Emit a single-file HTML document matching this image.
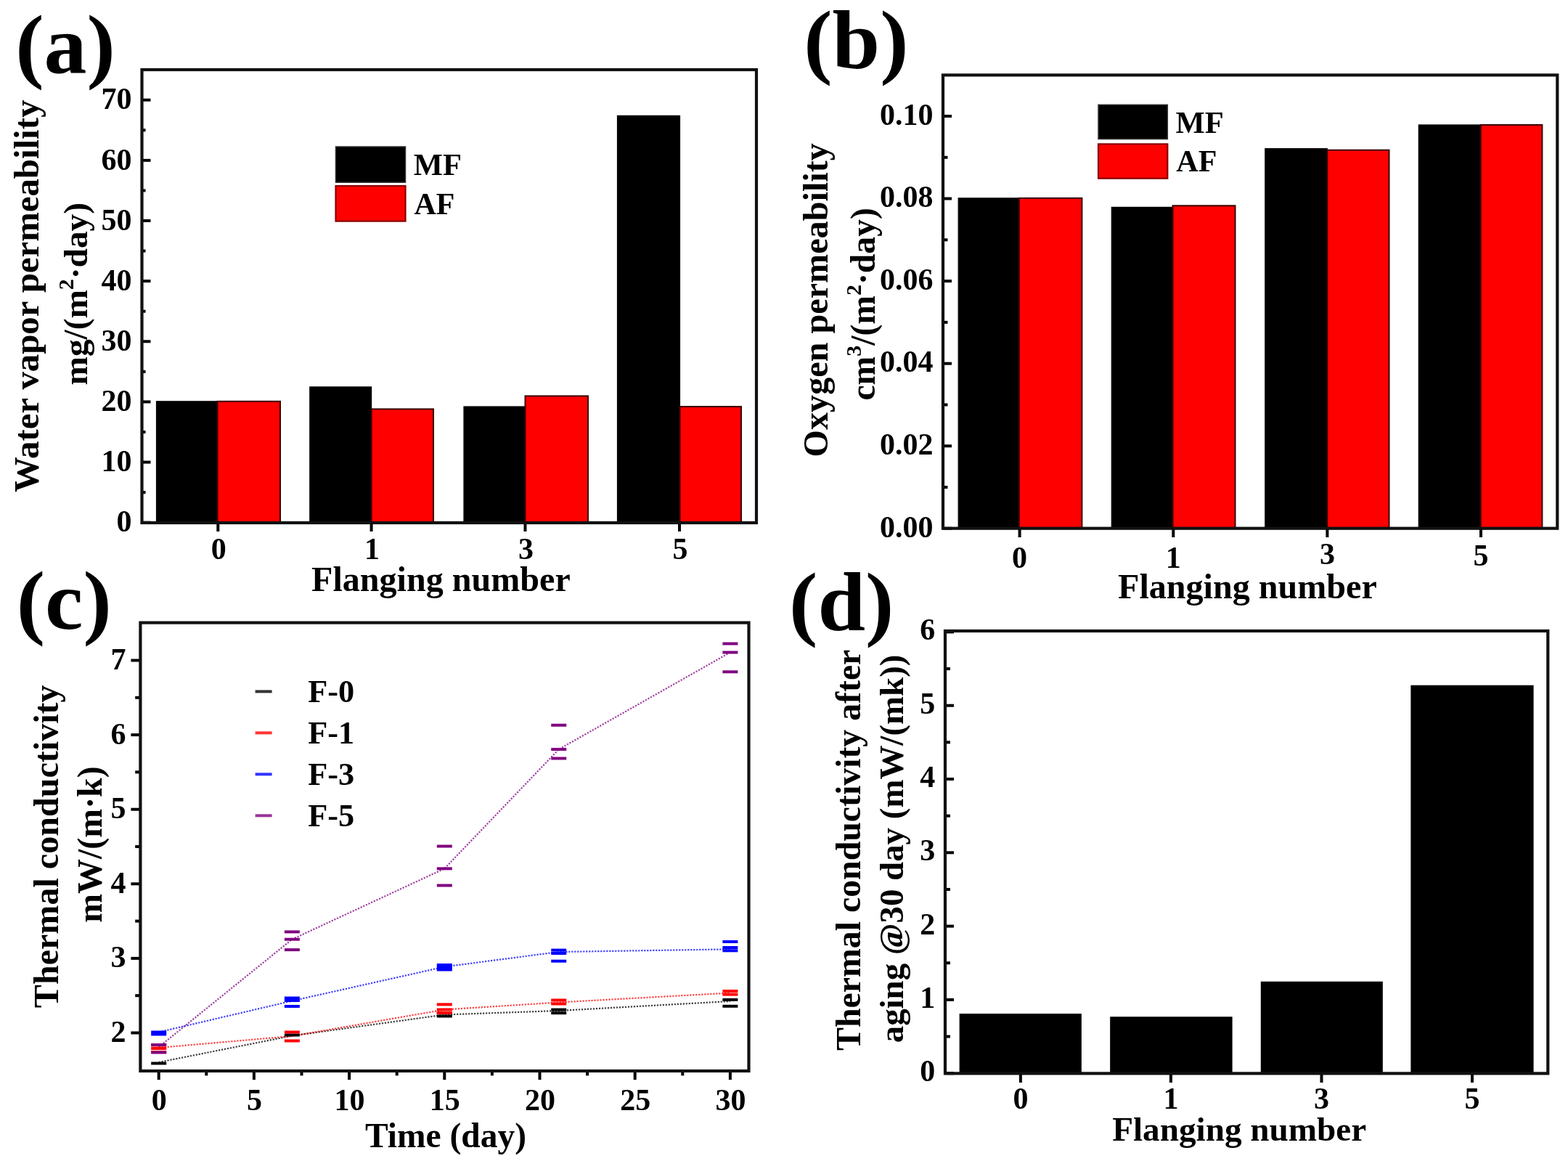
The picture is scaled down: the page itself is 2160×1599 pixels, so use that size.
<!DOCTYPE html>
<html><head><meta charset="utf-8"><title>Figure</title>
<style>
html,body{margin:0;padding:0;background:#fff;overflow:hidden;}
svg{display:block;filter:blur(0.55px);}
text{font-family:"Liberation Serif", "Times New Roman", serif;font-weight:bold;fill:#000;}
</style></head>
<body>
<svg width="2160" height="1599" viewBox="0 0 2160 1599">
<rect x="0" y="0" width="2160" height="1599" fill="#fff"/>
<rect x="215.5" y="552.8" width="84" height="167.2" fill="#000" stroke="#000" stroke-width="1.2" />
<rect x="299.5" y="552.8" width="86.5" height="167.2" fill="#ff0000" stroke="#3a0000" stroke-width="2" />
<rect x="426.8" y="532.9" width="84.8" height="187.1" fill="#000" stroke="#000" stroke-width="1.2" />
<rect x="511.6" y="563.4" width="85.4" height="156.6" fill="#ff0000" stroke="#3a0000" stroke-width="2" />
<rect x="639" y="560" width="84.5" height="160" fill="#000" stroke="#000" stroke-width="1.2" />
<rect x="723.5" y="545.4" width="86.5" height="174.6" fill="#ff0000" stroke="#3a0000" stroke-width="2" />
<rect x="850.5" y="159.4" width="86" height="560.6" fill="#000" stroke="#000" stroke-width="1.2" />
<rect x="936.5" y="560" width="84.5" height="160" fill="#ff0000" stroke="#3a0000" stroke-width="2" />
<line x1="195.5" y1="719.7" x2="207.5" y2="719.7" stroke="#000" stroke-width="4" />
<text x="181.5" y="732.4" font-size="42" text-anchor="end" >0</text>
<line x1="195.5" y1="678.13" x2="200.5" y2="678.13" stroke="#000" stroke-width="4" />
<line x1="195.5" y1="636.56" x2="207.5" y2="636.56" stroke="#000" stroke-width="4" />
<text x="181.5" y="649.26" font-size="42" text-anchor="end" >10</text>
<line x1="195.5" y1="594.99" x2="200.5" y2="594.99" stroke="#000" stroke-width="4" />
<line x1="195.5" y1="553.42" x2="207.5" y2="553.42" stroke="#000" stroke-width="4" />
<text x="181.5" y="566.12" font-size="42" text-anchor="end" >20</text>
<line x1="195.5" y1="511.85" x2="200.5" y2="511.85" stroke="#000" stroke-width="4" />
<line x1="195.5" y1="470.28" x2="207.5" y2="470.28" stroke="#000" stroke-width="4" />
<text x="181.5" y="482.98" font-size="42" text-anchor="end" >30</text>
<line x1="195.5" y1="428.71" x2="200.5" y2="428.71" stroke="#000" stroke-width="4" />
<line x1="195.5" y1="387.14" x2="207.5" y2="387.14" stroke="#000" stroke-width="4" />
<text x="181.5" y="399.84" font-size="42" text-anchor="end" >40</text>
<line x1="195.5" y1="345.57" x2="200.5" y2="345.57" stroke="#000" stroke-width="4" />
<line x1="195.5" y1="304" x2="207.5" y2="304" stroke="#000" stroke-width="4" />
<text x="181.5" y="316.7" font-size="42" text-anchor="end" >50</text>
<line x1="195.5" y1="262.43" x2="200.5" y2="262.43" stroke="#000" stroke-width="4" />
<line x1="195.5" y1="220.86" x2="207.5" y2="220.86" stroke="#000" stroke-width="4" />
<text x="181.5" y="233.56" font-size="42" text-anchor="end" >60</text>
<line x1="195.5" y1="179.29" x2="200.5" y2="179.29" stroke="#000" stroke-width="4" />
<line x1="195.5" y1="137.72" x2="207.5" y2="137.72" stroke="#000" stroke-width="4" />
<text x="181.5" y="150.42" font-size="42" text-anchor="end" >70</text>
<line x1="300.3" y1="720" x2="300.3" y2="732" stroke="#000" stroke-width="4" />
<text x="301.3" y="769.8" font-size="42" text-anchor="middle" >0</text>
<line x1="511.6" y1="720" x2="511.6" y2="732" stroke="#000" stroke-width="4" />
<text x="512.6" y="769.8" font-size="42" text-anchor="middle" >1</text>
<line x1="723.5" y1="720" x2="723.5" y2="732" stroke="#000" stroke-width="4" />
<text x="724.5" y="769.8" font-size="42" text-anchor="middle" >3</text>
<line x1="936" y1="720" x2="936" y2="732" stroke="#000" stroke-width="4" />
<text x="937" y="769.8" font-size="42" text-anchor="middle" >5</text>
<rect x="195.5" y="96" width="846.5" height="624" fill="none" stroke="#111" stroke-width="4.2"/>
<rect x="462.5" y="202" width="96" height="49.2" fill="#000" stroke="#333" stroke-width="1.5" />
<rect x="462.5" y="256" width="96" height="48.6" fill="#ff0000" stroke="#8a0000" stroke-width="2.2" />
<text x="569.7" y="241.3" font-size="42.6" text-anchor="start" >MF</text>
<text x="570.5" y="295.3" font-size="42" text-anchor="start" >AF</text>
<text x="429" y="813.7" font-size="48.1" text-anchor="start" >Flanging number</text>
<text x="52.5" y="678" font-size="48.8" text-anchor="start" transform="rotate(-90 52.5 678)" >Water vapor permeability</text>
<text x="119.7" y="530.5" font-size="47.3" text-anchor="start" transform="rotate(-90 119.7 530.5)" >mg/(m<tspan font-size="30" dy="-19">2</tspan><tspan dy="19">·day)</tspan></text>
<text x="0" y="0" font-size="118" transform="translate(21.31 100.3) scale(1.0 0.965)">(a)</text>
<rect x="1320.2" y="272.9" width="83.6" height="454.8" fill="#000" stroke="#000" stroke-width="1.2" />
<rect x="1403.8" y="272.9" width="86.6" height="454.8" fill="#ff0000" stroke="#3a0000" stroke-width="2" />
<rect x="1531.3" y="285.4" width="84.2" height="442.3" fill="#000" stroke="#000" stroke-width="1.2" />
<rect x="1615.5" y="283.3" width="86" height="444.4" fill="#ff0000" stroke="#3a0000" stroke-width="2" />
<rect x="1742.8" y="204.7" width="85.5" height="523" fill="#000" stroke="#000" stroke-width="1.2" />
<rect x="1828.3" y="206.7" width="85.2" height="521" fill="#ff0000" stroke="#3a0000" stroke-width="2" />
<rect x="1954.3" y="172" width="85.4" height="555.7" fill="#000" stroke="#000" stroke-width="1.2" />
<rect x="2039.7" y="172" width="84.7" height="555.7" fill="#ff0000" stroke="#3a0000" stroke-width="2" />
<line x1="1299" y1="727.8" x2="1311" y2="727.8" stroke="#000" stroke-width="4" />
<text x="1285.4" y="739.6" font-size="42" text-anchor="end" >0.00</text>
<line x1="1299" y1="671.02" x2="1305.5" y2="671.02" stroke="#000" stroke-width="4" />
<line x1="1299" y1="614.24" x2="1311" y2="614.24" stroke="#000" stroke-width="4" />
<text x="1285.4" y="626.04" font-size="42" text-anchor="end" >0.02</text>
<line x1="1299" y1="557.46" x2="1305.5" y2="557.46" stroke="#000" stroke-width="4" />
<line x1="1299" y1="500.68" x2="1311" y2="500.68" stroke="#000" stroke-width="4" />
<text x="1285.4" y="512.48" font-size="42" text-anchor="end" >0.04</text>
<line x1="1299" y1="443.9" x2="1305.5" y2="443.9" stroke="#000" stroke-width="4" />
<line x1="1299" y1="387.12" x2="1311" y2="387.12" stroke="#000" stroke-width="4" />
<text x="1285.4" y="398.92" font-size="42" text-anchor="end" >0.06</text>
<line x1="1299" y1="330.34" x2="1305.5" y2="330.34" stroke="#000" stroke-width="4" />
<line x1="1299" y1="273.56" x2="1311" y2="273.56" stroke="#000" stroke-width="4" />
<text x="1285.4" y="285.36" font-size="42" text-anchor="end" >0.08</text>
<line x1="1299" y1="216.78" x2="1305.5" y2="216.78" stroke="#000" stroke-width="4" />
<line x1="1299" y1="160" x2="1311" y2="160" stroke="#000" stroke-width="4" />
<text x="1285.4" y="171.8" font-size="42" text-anchor="end" >0.10</text>
<line x1="1404.6" y1="727.7" x2="1404.6" y2="740" stroke="#000" stroke-width="4" />
<text x="1404.6" y="782.3" font-size="42" text-anchor="middle" >0</text>
<line x1="1616.3" y1="727.7" x2="1616.3" y2="740" stroke="#000" stroke-width="4" />
<text x="1616.3" y="782.3" font-size="42" text-anchor="middle" >1</text>
<line x1="1828.4" y1="727.7" x2="1828.4" y2="740" stroke="#000" stroke-width="4" />
<text x="1828.4" y="777.3" font-size="42" text-anchor="middle" >3</text>
<line x1="2040" y1="727.7" x2="2040" y2="740" stroke="#000" stroke-width="4" />
<text x="2040" y="779" font-size="42" text-anchor="middle" >5</text>
<rect x="1299" y="103.4" width="846.3" height="624.3" fill="none" stroke="#111" stroke-width="4.2"/>
<rect x="1513" y="144.3" width="95.3" height="47.2" fill="#000" stroke="#333" stroke-width="1.5" />
<rect x="1513" y="198.4" width="95.3" height="47.3" fill="#ff0000" stroke="#8a0000" stroke-width="2.2" />
<text x="1619.5" y="182.5" font-size="42.6" text-anchor="start" >MF</text>
<text x="1620.3" y="236" font-size="42" text-anchor="start" >AF</text>
<text x="1540" y="823.6" font-size="48.1" text-anchor="start" >Flanging number</text>
<text x="1140" y="629.5" font-size="48.2" text-anchor="start" transform="rotate(-90 1140 629.5)" >Oxygen permeability</text>
<text x="1205" y="551.5" font-size="47.6" text-anchor="start" transform="rotate(-90 1205 551.5)" >cm<tspan font-size="30" dy="-19">3</tspan><tspan dy="19">/(m</tspan><tspan font-size="30" dy="-19">2</tspan><tspan dy="19">·day)</tspan></text>
<text x="0" y="0" font-size="118" transform="translate(1107.31 94.3) scale(1.0 0.965)">(b)</text>
<line x1="193.4" y1="1422.5" x2="180.4" y2="1422.5" stroke="#000" stroke-width="4" />
<text x="173.5" y="1435" font-size="42" text-anchor="end" >2</text>
<line x1="193.4" y1="1371.2" x2="186.2" y2="1371.2" stroke="#000" stroke-width="4" />
<line x1="193.4" y1="1319.9" x2="180.4" y2="1319.9" stroke="#000" stroke-width="4" />
<text x="173.5" y="1332.4" font-size="42" text-anchor="end" >3</text>
<line x1="193.4" y1="1268.6" x2="186.2" y2="1268.6" stroke="#000" stroke-width="4" />
<line x1="193.4" y1="1217.3" x2="180.4" y2="1217.3" stroke="#000" stroke-width="4" />
<text x="173.5" y="1229.8" font-size="42" text-anchor="end" >4</text>
<line x1="193.4" y1="1166" x2="186.2" y2="1166" stroke="#000" stroke-width="4" />
<line x1="193.4" y1="1114.7" x2="180.4" y2="1114.7" stroke="#000" stroke-width="4" />
<text x="173.5" y="1127.2" font-size="42" text-anchor="end" >5</text>
<line x1="193.4" y1="1063.4" x2="186.2" y2="1063.4" stroke="#000" stroke-width="4" />
<line x1="193.4" y1="1012.1" x2="180.4" y2="1012.1" stroke="#000" stroke-width="4" />
<text x="173.5" y="1024.6" font-size="42" text-anchor="end" >6</text>
<line x1="193.4" y1="960.8" x2="186.2" y2="960.8" stroke="#000" stroke-width="4" />
<line x1="193.4" y1="909.5" x2="180.4" y2="909.5" stroke="#000" stroke-width="4" />
<text x="173.5" y="922" font-size="42" text-anchor="end" >7</text>
<line x1="218.7" y1="1475" x2="218.7" y2="1487.2" stroke="#000" stroke-width="4" />
<text x="219.2" y="1528.6" font-size="42" text-anchor="middle" >0</text>
<line x1="284.3" y1="1475" x2="284.3" y2="1481.4" stroke="#000" stroke-width="4" />
<line x1="349.9" y1="1475" x2="349.9" y2="1487.2" stroke="#000" stroke-width="4" />
<text x="350.4" y="1528.6" font-size="42" text-anchor="middle" >5</text>
<line x1="415.5" y1="1475" x2="415.5" y2="1481.4" stroke="#000" stroke-width="4" />
<line x1="481.1" y1="1475" x2="481.1" y2="1487.2" stroke="#000" stroke-width="4" />
<text x="481.6" y="1528.6" font-size="42" text-anchor="middle" >10</text>
<line x1="546.7" y1="1475" x2="546.7" y2="1481.4" stroke="#000" stroke-width="4" />
<line x1="612.3" y1="1475" x2="612.3" y2="1487.2" stroke="#000" stroke-width="4" />
<text x="612.8" y="1528.6" font-size="42" text-anchor="middle" >15</text>
<line x1="677.9" y1="1475" x2="677.9" y2="1481.4" stroke="#000" stroke-width="4" />
<line x1="743.5" y1="1475" x2="743.5" y2="1487.2" stroke="#000" stroke-width="4" />
<text x="744" y="1528.6" font-size="42" text-anchor="middle" >20</text>
<line x1="809.1" y1="1475" x2="809.1" y2="1481.4" stroke="#000" stroke-width="4" />
<line x1="874.7" y1="1475" x2="874.7" y2="1487.2" stroke="#000" stroke-width="4" />
<text x="875.2" y="1528.6" font-size="42" text-anchor="middle" >25</text>
<line x1="940.3" y1="1475" x2="940.3" y2="1481.4" stroke="#000" stroke-width="4" />
<line x1="1005.9" y1="1475" x2="1005.9" y2="1487.2" stroke="#000" stroke-width="4" />
<text x="1006.4" y="1528.6" font-size="42" text-anchor="middle" >30</text>
<rect x="193.4" y="857.6" width="838.1" height="617.4" fill="none" stroke="#111" stroke-width="4.2"/>
<polyline points="218.7,1463 402.38,1426.5 612.3,1397.5 769.74,1392 1005.9,1379" fill="none" stroke="#000000" stroke-width="2.2" stroke-dasharray="2.2 1.8" opacity="0.75"/>
<polyline points="218.7,1443 402.38,1427 612.3,1390.5 769.74,1380.5 1005.9,1367.5" fill="none" stroke="#ff0000" stroke-width="2.2" stroke-dasharray="2.2 1.8" opacity="0.75"/>
<polyline points="218.7,1421.5 402.38,1378.5 612.3,1331.5 769.74,1311 1005.9,1307.3" fill="none" stroke="#0000ff" stroke-width="2.2" stroke-dasharray="2.2 1.8" opacity="0.75"/>
<polyline points="218.7,1442 402.38,1293.7 612.3,1196.3 769.74,1032 1005.9,898.5" fill="none" stroke="#800080" stroke-width="2.2" stroke-dasharray="2.2 1.8" opacity="0.75"/>
<rect x="208.2" y="1462.5" width="21" height="4" fill="#000000" />
<rect x="391.88" y="1423.5" width="21" height="4" fill="#000000" />
<rect x="601.8" y="1393" width="21" height="4" fill="#000000" />
<rect x="601.8" y="1397.5" width="21" height="4" fill="#000000" />
<rect x="759.24" y="1388.6" width="21" height="4" fill="#000000" />
<rect x="759.24" y="1393.2" width="21" height="4" fill="#000000" />
<rect x="995.4" y="1374.9" width="21" height="4" fill="#000000" />
<rect x="995.4" y="1383.8" width="21" height="4" fill="#000000" />
<rect x="208.2" y="1437.5" width="21" height="4" fill="#ff0000" />
<rect x="208.2" y="1442" width="21" height="4" fill="#ff0000" />
<rect x="208.2" y="1447" width="21" height="4" fill="#ff0000" />
<rect x="391.88" y="1419.5" width="21" height="4" fill="#ff0000" />
<rect x="391.88" y="1431.5" width="21" height="4" fill="#ff0000" />
<rect x="601.8" y="1381.4" width="21" height="4" fill="#ff0000" />
<rect x="601.8" y="1388.5" width="21" height="4" fill="#ff0000" />
<rect x="601.8" y="1393" width="21" height="4" fill="#ff0000" />
<rect x="759.24" y="1375.5" width="21" height="4" fill="#ff0000" />
<rect x="759.24" y="1380.5" width="21" height="4" fill="#ff0000" />
<rect x="995.4" y="1363" width="21" height="4" fill="#ff0000" />
<rect x="995.4" y="1367.6" width="21" height="4" fill="#ff0000" />
<rect x="208.2" y="1419.5" width="21" height="4" fill="#0000ff" />
<rect x="208.2" y="1422.5" width="21" height="4" fill="#0000ff" />
<rect x="391.88" y="1372.5" width="21" height="4" fill="#0000ff" />
<rect x="391.88" y="1376" width="21" height="4" fill="#0000ff" />
<rect x="391.88" y="1384" width="21" height="4" fill="#0000ff" />
<rect x="601.8" y="1327" width="21" height="4" fill="#0000ff" />
<rect x="601.8" y="1330.3" width="21" height="4" fill="#0000ff" />
<rect x="601.8" y="1333.5" width="21" height="4" fill="#0000ff" />
<rect x="759.24" y="1306.6" width="21" height="4" fill="#0000ff" />
<rect x="759.24" y="1311" width="21" height="4" fill="#0000ff" />
<rect x="759.24" y="1321.7" width="21" height="4" fill="#0000ff" />
<rect x="995.4" y="1295" width="21" height="4" fill="#0000ff" />
<rect x="995.4" y="1303" width="21" height="4" fill="#0000ff" />
<rect x="995.4" y="1307.3" width="21" height="4" fill="#0000ff" />
<rect x="208.2" y="1437" width="21" height="4" fill="#800080" />
<rect x="208.2" y="1447.5" width="21" height="4" fill="#800080" />
<rect x="391.88" y="1281.4" width="21" height="4" fill="#800080" />
<rect x="391.88" y="1291.7" width="21" height="4" fill="#800080" />
<rect x="391.88" y="1306.1" width="21" height="4" fill="#800080" />
<rect x="601.8" y="1163.5" width="21" height="4" fill="#800080" />
<rect x="601.8" y="1194.3" width="21" height="4" fill="#800080" />
<rect x="601.8" y="1217.5" width="21" height="4" fill="#800080" />
<rect x="759.24" y="996.75" width="21" height="4" fill="#800080" />
<rect x="759.24" y="1030" width="21" height="4" fill="#800080" />
<rect x="759.24" y="1042.5" width="21" height="4" fill="#800080" />
<rect x="995.4" y="884.5" width="21" height="4" fill="#800080" />
<rect x="995.4" y="896.5" width="21" height="4" fill="#800080" />
<rect x="995.4" y="923.3" width="21" height="4" fill="#800080" />
<rect x="351.6" y="950.4" width="23" height="4" fill="#000000" opacity="0.8"/>
<text x="424.3" y="967.4" font-size="44.3" text-anchor="start" >F-0</text>
<rect x="351.6" y="1007.37" width="23" height="4" fill="#ff0000" opacity="0.8"/>
<text x="424.3" y="1024.3" font-size="44.3" text-anchor="start" >F-1</text>
<rect x="351.6" y="1064.34" width="23" height="4" fill="#0000ff" opacity="0.8"/>
<text x="424.3" y="1081.2" font-size="44.3" text-anchor="start" >F-3</text>
<rect x="351.6" y="1121.31" width="23" height="4" fill="#800080" opacity="0.8"/>
<text x="424.3" y="1138.1" font-size="44.3" text-anchor="start" >F-5</text>
<text x="503" y="1579.8" font-size="47.5" text-anchor="start" >Time (day)</text>
<text x="80" y="1388.2" font-size="48.1" text-anchor="start" transform="rotate(-90 80 1388.2)" >Thermal conductivity</text>
<text x="140.3" y="1270.8" font-size="47.9" text-anchor="start" transform="rotate(-90 140.3 1270.8)" >mW/(m·k)</text>
<text x="0" y="0" font-size="118" transform="translate(22.81 865.5) scale(1.0 0.965)">(c)</text>
<rect x="1322.2" y="1396.7" width="167" height="81.7" fill="#000" stroke="#000" stroke-width="1.2" />
<rect x="1529.8" y="1400.9" width="167.2" height="77.5" fill="#000" stroke="#000" stroke-width="1.2" />
<rect x="1737.4" y="1352.4" width="166.8" height="126" fill="#000" stroke="#000" stroke-width="1.2" />
<rect x="1944" y="944.3" width="168" height="534.1" fill="#000" stroke="#000" stroke-width="1.2" />
<line x1="1302" y1="1478.2" x2="1314" y2="1478.2" stroke="#000" stroke-width="4" />
<text x="1288.3" y="1489.2" font-size="42" text-anchor="end" >0</text>
<line x1="1302" y1="1427.55" x2="1309" y2="1427.55" stroke="#000" stroke-width="4" />
<line x1="1302" y1="1376.9" x2="1314" y2="1376.9" stroke="#000" stroke-width="4" />
<text x="1288.3" y="1387.9" font-size="42" text-anchor="end" >1</text>
<line x1="1302" y1="1326.25" x2="1309" y2="1326.25" stroke="#000" stroke-width="4" />
<line x1="1302" y1="1275.6" x2="1314" y2="1275.6" stroke="#000" stroke-width="4" />
<text x="1288.3" y="1286.6" font-size="42" text-anchor="end" >2</text>
<line x1="1302" y1="1224.95" x2="1309" y2="1224.95" stroke="#000" stroke-width="4" />
<line x1="1302" y1="1174.3" x2="1314" y2="1174.3" stroke="#000" stroke-width="4" />
<text x="1288.3" y="1185.3" font-size="42" text-anchor="end" >3</text>
<line x1="1302" y1="1123.65" x2="1309" y2="1123.65" stroke="#000" stroke-width="4" />
<line x1="1302" y1="1073" x2="1314" y2="1073" stroke="#000" stroke-width="4" />
<text x="1288.3" y="1084" font-size="42" text-anchor="end" >4</text>
<line x1="1302" y1="1022.35" x2="1309" y2="1022.35" stroke="#000" stroke-width="4" />
<line x1="1302" y1="971.7" x2="1314" y2="971.7" stroke="#000" stroke-width="4" />
<text x="1288.3" y="982.7" font-size="42" text-anchor="end" >5</text>
<line x1="1302" y1="921.05" x2="1309" y2="921.05" stroke="#000" stroke-width="4" />
<line x1="1302" y1="870.4" x2="1314" y2="870.4" stroke="#000" stroke-width="4" />
<text x="1288.3" y="881.4" font-size="42" text-anchor="end" >6</text>
<line x1="1405.9" y1="1478.4" x2="1405.9" y2="1491" stroke="#000" stroke-width="4" />
<text x="1405.9" y="1527" font-size="42" text-anchor="middle" >0</text>
<line x1="1612.9" y1="1478.4" x2="1612.9" y2="1491" stroke="#000" stroke-width="4" />
<text x="1612.9" y="1527" font-size="42" text-anchor="middle" >1</text>
<line x1="1820.5" y1="1478.4" x2="1820.5" y2="1491" stroke="#000" stroke-width="4" />
<text x="1820.5" y="1527" font-size="42" text-anchor="middle" >3</text>
<line x1="2028" y1="1478.4" x2="2028" y2="1491" stroke="#000" stroke-width="4" />
<text x="2028" y="1527" font-size="42" text-anchor="middle" >5</text>
<rect x="1302" y="869" width="830.3" height="609.4" fill="none" stroke="#111" stroke-width="4.2"/>
<text x="1532.2" y="1571.3" font-size="47.2" text-anchor="start" >Flanging number</text>
<text x="1185.5" y="1446.9" font-size="47.8" text-anchor="start" transform="rotate(-90 1185.5 1446.9)" >Thermal conductivity after</text>
<text x="1244.5" y="1436.3" font-size="46.9" text-anchor="start" transform="rotate(-90 1244.5 1436.3)" >aging @30 day (mW/(mk))</text>
<text x="0" y="0" font-size="118" transform="translate(1087.11 867.6) scale(1.0 0.965)">(d)</text>
</svg>
</body></html>
